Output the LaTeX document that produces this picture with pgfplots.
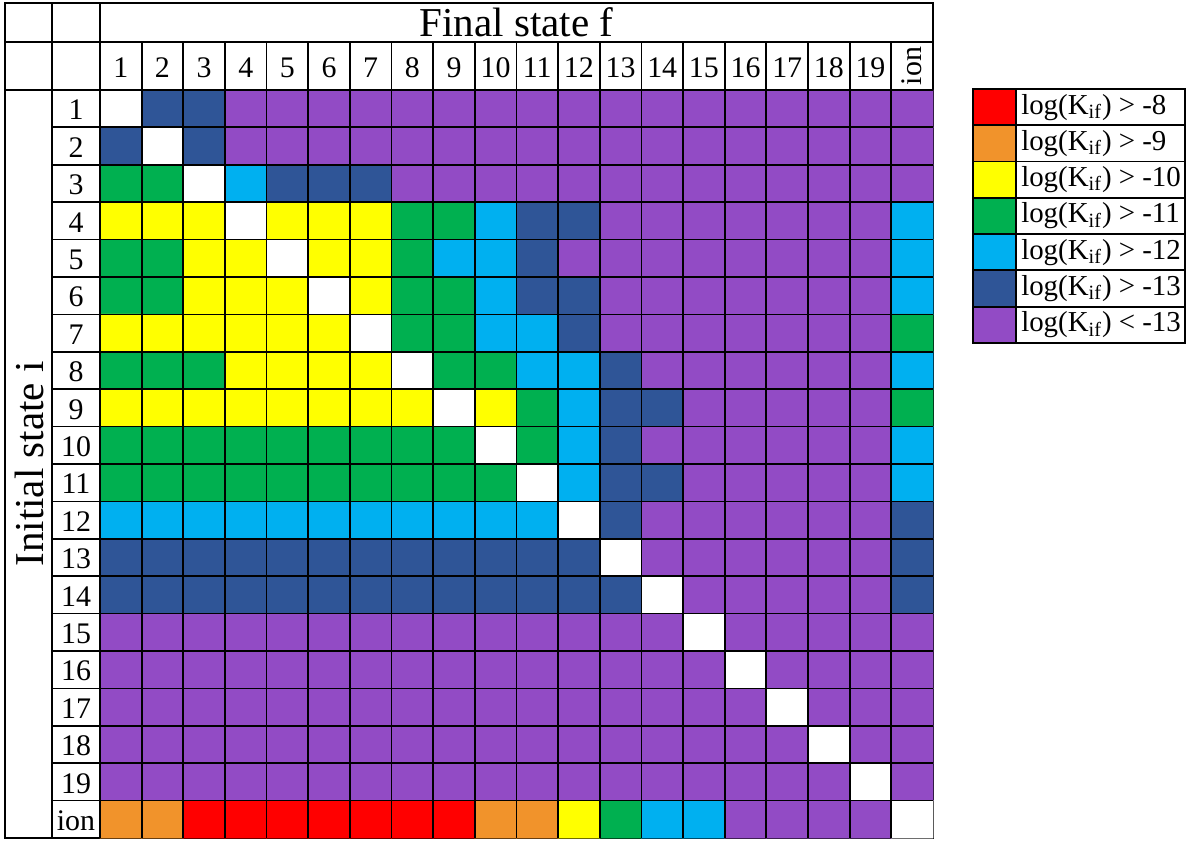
\documentclass[border=0pt]{standalone}
\usepackage{pgfplots}
\pgfplotsset{compat=1.18}
\usepackage{fontspec}
\setmainfont{Liberation Serif}

\definecolor{cR}{RGB}{255,0,0}
\definecolor{cO}{RGB}{241,147,43}
\definecolor{cY}{RGB}{255,255,0}
\definecolor{cG}{RGB}{0,176,80}
\definecolor{cL}{RGB}{0,176,240}
\definecolor{cD}{RGB}{47,85,151}
\definecolor{cP}{RGB}{146,75,197}

\begin{document}
\begin{tikzpicture}[font=\fontsize{15}{18}\selectfont]
\begin{axis}[
  name=main,
  x=20.825bp, y=18.7bp, y dir=reverse,
  xmin=-1.78, xmax=20.5, ymin=-1.826, ymax=20.5,
  xtick=\empty, ytick=\empty, clip=false,
  axis line style={line width=0.9pt},
  colormap={kif}{rgb255=(255,255,255) rgb255=(255,0,0) rgb255=(241,147,43)
    rgb255=(255,255,0) rgb255=(0,176,80) rgb255=(0,176,240)
    rgb255=(47,85,151) rgb255=(146,75,197)},
  colormap access=direct,
]
  % codes: 0 diagonal (white), 1 > -8, 2 > -9, 3 > -10, 4 > -11, 5 > -12, 6 > -13, 7 < -13
  % x = final state (20 = ion), y = initial state (20 = ion)
  \addplot[matrix plot*, mesh/cols=20, point meta=explicit] coordinates {
(1,1)[0] (2,1)[6] (3,1)[6] (4,1)[7] (5,1)[7] (6,1)[7] (7,1)[7] (8,1)[7] (9,1)[7] (10,1)[7] (11,1)[7] (12,1)[7] (13,1)[7] (14,1)[7] (15,1)[7] (16,1)[7] (17,1)[7] (18,1)[7] (19,1)[7] (20,1)[7]
(1,2)[6] (2,2)[0] (3,2)[6] (4,2)[7] (5,2)[7] (6,2)[7] (7,2)[7] (8,2)[7] (9,2)[7] (10,2)[7] (11,2)[7] (12,2)[7] (13,2)[7] (14,2)[7] (15,2)[7] (16,2)[7] (17,2)[7] (18,2)[7] (19,2)[7] (20,2)[7]
(1,3)[4] (2,3)[4] (3,3)[0] (4,3)[5] (5,3)[6] (6,3)[6] (7,3)[6] (8,3)[7] (9,3)[7] (10,3)[7] (11,3)[7] (12,3)[7] (13,3)[7] (14,3)[7] (15,3)[7] (16,3)[7] (17,3)[7] (18,3)[7] (19,3)[7] (20,3)[7]
(1,4)[3] (2,4)[3] (3,4)[3] (4,4)[0] (5,4)[3] (6,4)[3] (7,4)[3] (8,4)[4] (9,4)[4] (10,4)[5] (11,4)[6] (12,4)[6] (13,4)[7] (14,4)[7] (15,4)[7] (16,4)[7] (17,4)[7] (18,4)[7] (19,4)[7] (20,4)[5]
(1,5)[4] (2,5)[4] (3,5)[3] (4,5)[3] (5,5)[0] (6,5)[3] (7,5)[3] (8,5)[4] (9,5)[5] (10,5)[5] (11,5)[6] (12,5)[7] (13,5)[7] (14,5)[7] (15,5)[7] (16,5)[7] (17,5)[7] (18,5)[7] (19,5)[7] (20,5)[5]
(1,6)[4] (2,6)[4] (3,6)[3] (4,6)[3] (5,6)[3] (6,6)[0] (7,6)[3] (8,6)[4] (9,6)[4] (10,6)[5] (11,6)[6] (12,6)[6] (13,6)[7] (14,6)[7] (15,6)[7] (16,6)[7] (17,6)[7] (18,6)[7] (19,6)[7] (20,6)[5]
(1,7)[3] (2,7)[3] (3,7)[3] (4,7)[3] (5,7)[3] (6,7)[3] (7,7)[0] (8,7)[4] (9,7)[4] (10,7)[5] (11,7)[5] (12,7)[6] (13,7)[7] (14,7)[7] (15,7)[7] (16,7)[7] (17,7)[7] (18,7)[7] (19,7)[7] (20,7)[4]
(1,8)[4] (2,8)[4] (3,8)[4] (4,8)[3] (5,8)[3] (6,8)[3] (7,8)[3] (8,8)[0] (9,8)[4] (10,8)[4] (11,8)[5] (12,8)[5] (13,8)[6] (14,8)[7] (15,8)[7] (16,8)[7] (17,8)[7] (18,8)[7] (19,8)[7] (20,8)[5]
(1,9)[3] (2,9)[3] (3,9)[3] (4,9)[3] (5,9)[3] (6,9)[3] (7,9)[3] (8,9)[3] (9,9)[0] (10,9)[3] (11,9)[4] (12,9)[5] (13,9)[6] (14,9)[6] (15,9)[7] (16,9)[7] (17,9)[7] (18,9)[7] (19,9)[7] (20,9)[4]
(1,10)[4] (2,10)[4] (3,10)[4] (4,10)[4] (5,10)[4] (6,10)[4] (7,10)[4] (8,10)[4] (9,10)[4] (10,10)[0] (11,10)[4] (12,10)[5] (13,10)[6] (14,10)[7] (15,10)[7] (16,10)[7] (17,10)[7] (18,10)[7] (19,10)[7] (20,10)[5]
(1,11)[4] (2,11)[4] (3,11)[4] (4,11)[4] (5,11)[4] (6,11)[4] (7,11)[4] (8,11)[4] (9,11)[4] (10,11)[4] (11,11)[0] (12,11)[5] (13,11)[6] (14,11)[6] (15,11)[7] (16,11)[7] (17,11)[7] (18,11)[7] (19,11)[7] (20,11)[5]
(1,12)[5] (2,12)[5] (3,12)[5] (4,12)[5] (5,12)[5] (6,12)[5] (7,12)[5] (8,12)[5] (9,12)[5] (10,12)[5] (11,12)[5] (12,12)[0] (13,12)[6] (14,12)[7] (15,12)[7] (16,12)[7] (17,12)[7] (18,12)[7] (19,12)[7] (20,12)[6]
(1,13)[6] (2,13)[6] (3,13)[6] (4,13)[6] (5,13)[6] (6,13)[6] (7,13)[6] (8,13)[6] (9,13)[6] (10,13)[6] (11,13)[6] (12,13)[6] (13,13)[0] (14,13)[7] (15,13)[7] (16,13)[7] (17,13)[7] (18,13)[7] (19,13)[7] (20,13)[6]
(1,14)[6] (2,14)[6] (3,14)[6] (4,14)[6] (5,14)[6] (6,14)[6] (7,14)[6] (8,14)[6] (9,14)[6] (10,14)[6] (11,14)[6] (12,14)[6] (13,14)[6] (14,14)[0] (15,14)[7] (16,14)[7] (17,14)[7] (18,14)[7] (19,14)[7] (20,14)[6]
(1,15)[7] (2,15)[7] (3,15)[7] (4,15)[7] (5,15)[7] (6,15)[7] (7,15)[7] (8,15)[7] (9,15)[7] (10,15)[7] (11,15)[7] (12,15)[7] (13,15)[7] (14,15)[7] (15,15)[0] (16,15)[7] (17,15)[7] (18,15)[7] (19,15)[7] (20,15)[7]
(1,16)[7] (2,16)[7] (3,16)[7] (4,16)[7] (5,16)[7] (6,16)[7] (7,16)[7] (8,16)[7] (9,16)[7] (10,16)[7] (11,16)[7] (12,16)[7] (13,16)[7] (14,16)[7] (15,16)[7] (16,16)[0] (17,16)[7] (18,16)[7] (19,16)[7] (20,16)[7]
(1,17)[7] (2,17)[7] (3,17)[7] (4,17)[7] (5,17)[7] (6,17)[7] (7,17)[7] (8,17)[7] (9,17)[7] (10,17)[7] (11,17)[7] (12,17)[7] (13,17)[7] (14,17)[7] (15,17)[7] (16,17)[7] (17,17)[0] (18,17)[7] (19,17)[7] (20,17)[7]
(1,18)[7] (2,18)[7] (3,18)[7] (4,18)[7] (5,18)[7] (6,18)[7] (7,18)[7] (8,18)[7] (9,18)[7] (10,18)[7] (11,18)[7] (12,18)[7] (13,18)[7] (14,18)[7] (15,18)[7] (16,18)[7] (17,18)[7] (18,18)[0] (19,18)[7] (20,18)[7]
(1,19)[7] (2,19)[7] (3,19)[7] (4,19)[7] (5,19)[7] (6,19)[7] (7,19)[7] (8,19)[7] (9,19)[7] (10,19)[7] (11,19)[7] (12,19)[7] (13,19)[7] (14,19)[7] (15,19)[7] (16,19)[7] (17,19)[7] (18,19)[7] (19,19)[0] (20,19)[7]
(1,20)[2] (2,20)[2] (3,20)[1] (4,20)[1] (5,20)[1] (6,20)[1] (7,20)[1] (8,20)[1] (9,20)[1] (10,20)[2] (11,20)[2] (12,20)[3] (13,20)[4] (14,20)[5] (15,20)[5] (16,20)[7] (17,20)[7] (18,20)[7] (19,20)[7] (20,20)[0]
  };

  % table rules
  \pgfplotsinvokeforeach{1.5,2.5,...,19.5}{
    \draw[line width=0.9pt] (axis cs:#1,-0.783) -- (axis cs:#1,20.5);
    \draw[line width=0.9pt] (axis cs:-0.652,#1) -- (axis cs:20.5,#1);
  }
  \draw[line width=0.9pt] (axis cs:-1.78,-0.783) -- (axis cs:20.5,-0.783);
  \draw[line width=0.9pt] (axis cs:-1.78,0.5) -- (axis cs:20.5,0.5);
  \draw[line width=0.9pt] (axis cs:-0.652,-1.826) -- (axis cs:-0.652,20.5);
  \draw[line width=0.9pt] (axis cs:0.5,-1.826) -- (axis cs:0.5,20.5);

  % headers and labels
  \node[font=\fontsize{20.6}{24}\selectfont] at (axis cs:10.5,-1.305) {Final state f};
  \node[font=\fontsize{20.6}{24}\selectfont, rotate=90] at (axis cs:-1.204,10.5) {Initial state i};
  \pgfplotsinvokeforeach{1,...,19}{
    \node[anchor=base, yshift=-6bp] at (axis cs:#1,-0.142) {#1};
    \node[anchor=base, yshift=-5.6bp] at (axis cs:-0.075,#1) {#1};
  }
  \node[rotate=90] at (axis cs:20,-0.142) {ion};
  \node[anchor=base, yshift=-5.6bp] at (axis cs:-0.075,20) {ion};

  \coordinate (legtl) at (axis cs:21.46,0.473);
  \coordinate (bbtl) at (axis cs:-1.78,-1.826);
\end{axis}

\begin{axis}[
  at={(legtl)}, anchor=north west,
  x=21.35bp, y=18.14bp,
  xmin=0, xmax=4.965, ymin=0.5, ymax=7.5,
  xtick=\empty, ytick={1.5,2.5,...,6.5}, yticklabels={},
  major tick length=0pt, ymajorgrids,
  grid style={black, line width=0.9pt},
  axis line style={line width=0.9pt}, clip=false,
  every axis plot/.append style={xbar, bar width=1, bar shift=0pt, draw=black, line width=0.9pt},
  nodes={anchor=west, inner sep=0pt, xshift=2.6bp, font=\fontsize{14.5}{17}\selectfont},
]
  \addplot[fill=cR] coordinates {(1,7)};
  \addplot[fill=cO] coordinates {(1,6)};
  \addplot[fill=cY] coordinates {(1,5)};
  \addplot[fill=cG] coordinates {(1,4)};
  \addplot[fill=cL] coordinates {(1,3)};
  \addplot[fill=cD] coordinates {(1,2)};
  \addplot[fill=cP] coordinates {(1,1)};
  \node at (axis cs:1,7) {log(K\textsubscript{if}) > -8};
  \node at (axis cs:1,6) {log(K\textsubscript{if}) > -9};
  \node at (axis cs:1,5) {log(K\textsubscript{if}) > -10};
  \node at (axis cs:1,4) {log(K\textsubscript{if}) > -11};
  \node at (axis cs:1,3) {log(K\textsubscript{if}) > -12};
  \node at (axis cs:1,2) {log(K\textsubscript{if}) > -13};
  \node at (axis cs:1,1) {log(K\textsubscript{if}) < -13};
\end{axis}

\path (bbtl) ++(-2.5bp,1.5bp) rectangle ++(600bp,-420.5bp);
\end{tikzpicture}
\end{document}
